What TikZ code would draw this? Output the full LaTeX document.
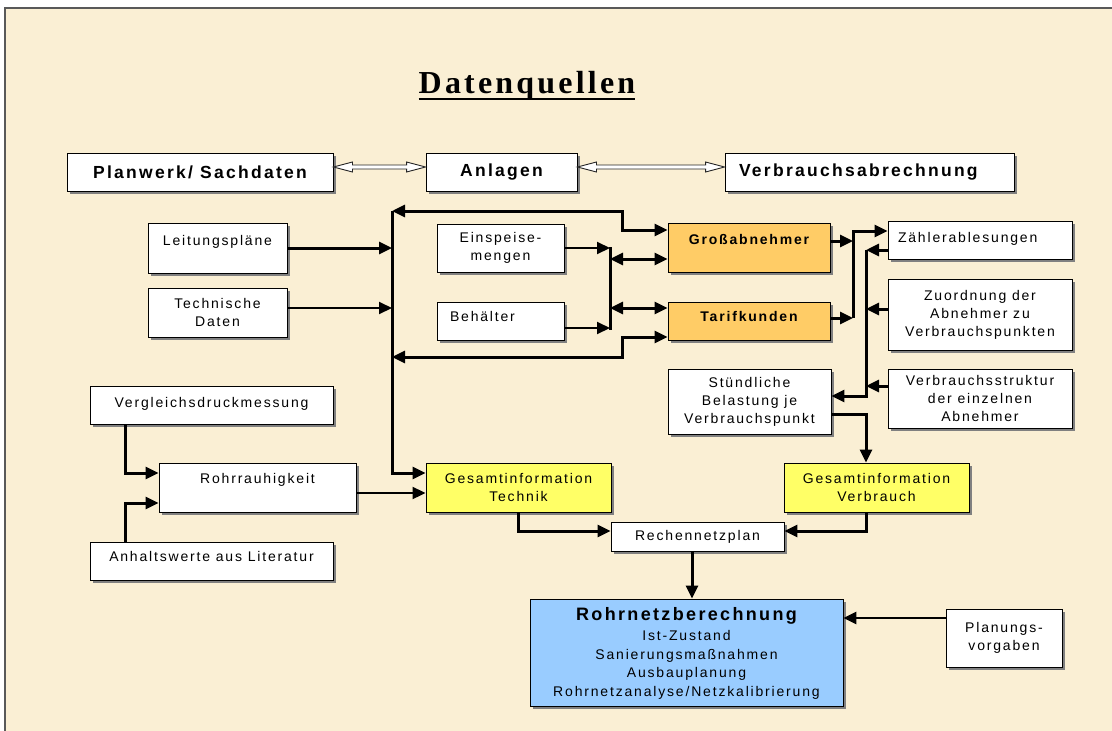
\documentclass[tikz,border=0pt]{standalone}
\usepackage{fontspec}
\setmainfont{Liberation Sans}
\newfontfamily\boxfont[LetterSpace=13]{Liberation Sans}
\newfontfamily\titlefont[LetterSpace=10]{Liberation Serif}
\usetikzlibrary{arrows.meta,shadows,calc}

\definecolor{paper}{RGB}{250,239,212}
\definecolor{kunde}{RGB}{255,204,102}
\definecolor{gesamt}{RGB}{255,255,102}
\definecolor{rechnung}{RGB}{153,204,255}

\tikzset{
	box/.style={draw=black, line width=0.9pt, fill=white, inner sep=0pt, align=center,
		font=\boxfont\fontsize{14}{18}\selectfont,
		drop shadow={shadow xshift=3pt, shadow yshift=-3pt, fill=black!50, opacity=1}},
	headbox/.style={box, font=\boxfont\bfseries\fontsize{17.5}{20}\selectfont},
	kundebox/.style={box, fill=kunde, font=\boxfont\bfseries\fontsize{14}{18}\selectfont},
	gesamtbox/.style={box, fill=gesamt},
	rohrbox/.style={box, fill=rechnung, font=\boxfont\fontsize{14}{18.5}\selectfont},
	dim/.style 2 args={minimum width=#1pt, minimum height=#2pt},
	lift/.style={text height=10pt, text depth=#1pt},
	conn/.style={line width=3pt, -{Triangle[length=13pt,width=12pt]}},
	connthin/.style={conn, line width=2pt},
	both/.style={line width=3pt, {Triangle[length=13pt,width=12pt]}-{Triangle[length=13pt,width=12pt]}},
	bar/.style={line width=3pt, line cap=rect},
	hollow/.style={draw=black!85, line width=0.9pt, fill=white, line join=miter},
}

% hohler Doppelpfeil zwischen zwei Punkten gleicher Hoehe
\newcommand\hohlpfeil[2]{%
	\draw[hollow] (#1) -- ($(#1)+(19,-5)$) -- ($(#1)+(19,-2)$) -- ($(#2)+(-19,-2)$)
		-- ($(#2)+(-19,-5)$) -- (#2) -- ($(#2)+(-19,5)$) -- ($(#2)+(-19,2)$)
		-- ($(#1)+(19,2)$) -- ($(#1)+(19,5)$) -- cycle;}

\begin{document}
\begin{tikzpicture}[x=1pt, y=-1pt]
		\useasboundingbox (0,0) rectangle (1112,731);
		\fill[white] (0,0) rectangle (1112,731);
		\draw[fill=paper, draw=black!65, line width=1.5pt] (5,8) rectangle (1120,740);

		\node[font=\titlefont\bfseries\fontsize{32}{36}\selectfont, anchor=base, inner sep=0pt]
			(titel) at (527,93) {Datenquellen};
		\draw[line width=2.5pt] ([yshift=-6pt]titel.base west) -- ([yshift=-6pt]titel.base east);

		\path
			  (200,172)     node[headbox, dim={266}{38}]                 (plan)    {Planwerk/ Sachdaten}
			  (501.5,172)   node[headbox, dim={151}{38}]                 (anlagen) {Anlagen}
			  (869.5,172)   node[headbox, dim={289}{38}, text width=261pt, align=left] (verbr) {Verbrauchsabrechnung}
			  (217.5,248)   node[box, dim={139}{50}, lift=16]            (leit)    {Leitungspläne}
			  (217.5,312.5) node[box, dim={139}{49}]                     (tech)    {Technische\\Daten}
			  (500.5,248)   node[box, dim={127}{48}]                     (einsp)   {Einspeise-\\mengen}
			  (500.5,321)   node[box, dim={127}{38}, lift=10, text width=101pt, align=left] (behael) {Behälter}
			  (749,247.5)   node[kundebox, dim={162}{49}, lift=17]       (gross)   {Großabnehmer}
			  (749,321)     node[kundebox, dim={162}{38}, lift=10]       (tarif)   {Tarifkunden}
			  (980,240)     node[box, dim={184}{38}, lift=6, text width=164pt, align=left] (zaehl) {Zählerablesungen}
			  (980,314.5)   node[box, dim={184}{71}]                     (zuord)   {Zuordnung der\\Abnehmer zu\\Verbrauchspunkten}
			  (980,398.5)   node[box, dim={184}{59}]                     (struk)   {Verbrauchsstruktur\\der einzelnen\\Abnehmer}
			  (749.5,401.5) node[box, dim={163}{65}]                     (stuend)  {Stündliche\\Belastung je\\Verbrauchspunkt}
			  (211.5,405)   node[box, dim={243}{38}, lift=6]             (vergl)   {Vergleichsdruckmessung}
			  (257.5,487.5) node[box, dim={197}{49}, lift=19]            (rauh)    {Rohrrauhigkeit}
			  (211.5,561)   node[box, dim={243}{38}, lift=10]            (anhalt)  {Anhaltswerte aus Literatur}
			  (518.5,487.5) node[gesamtbox, dim={185}{49}]               (gest)    {Gesamtinformation\\Technik}
			  (876.5,487.5) node[gesamtbox, dim={185}{49}]               (gesv)    {Gesamtinformation\\Verbrauch}
			  (697.5,536.5) node[box, dim={173}{29}]                     (rnetz)   {Rechennetzplan}
			  (686.5,652.5) node[rohrbox, dim={313}{107}, text depth=1pt] (rohr)  {{\bfseries\fontsize{18}{20}\selectfont Rohrnetzberechnung}\\[1.5pt]Ist-Zustand\\Sanierungsmaßnahmen\\Ausbauplanung\\Rohrnetzanalyse/Netzkalibrierung}
			  (1004,638)    node[box, dim={116}{58}]                     (planv)   {Planungs-\\vorgaben}
		;

		% Sammelleitungen
		\coordinate (trunkT) at (392,211);
		\coordinate (trunkM) at (392,357);
		\coordinate (trunkB) at (392,473);
		\coordinate (bendT)  at (622,211);
		\coordinate (bendB)  at (622,357);
		\coordinate (sumA)   at (610,248);
		\coordinate (sumB)   at (610,328);
		\coordinate (knotR)  at (853,318);
		\coordinate (knotS)  at (866,396);

		% Anschlusspunkte
		\coordinate (hA)      at ([yshift=5pt]plan.east);
		\coordinate (hAe)     at (hA -| anlagen.west);
		\coordinate (hB)      at ([yshift=5pt]anlagen.east);
		\coordinate (hBe)     at (hB -| verbr.west);
		\coordinate (techO)   at ([yshift=4.5pt]tech.east);
		\coordinate (behO)    at ([yshift=-7pt]behael.east);
		\coordinate (grossI)  at ([yshift=17.5pt]gross.west);
		\coordinate (grossL)  at ([yshift=-11.5pt]gross.west);
		\coordinate (grossO)  at ([yshift=6.5pt]gross.east);
		\coordinate (tarifI)  at ([yshift=-16pt]tarif.west);
		\coordinate (tarifL)  at ([yshift=13pt]tarif.west);
		\coordinate (tarifO)  at ([yshift=3pt]tarif.east);
		\coordinate (zaehlI)  at ([yshift=9pt]zaehl.west);
		\coordinate (zaehlO)  at ([yshift=-10pt]zaehl.west);
		\coordinate (zuordO)  at ([yshift=5.5pt]zuord.west);
		\coordinate (strukO)  at ([yshift=12.5pt]struk.west);
		\coordinate (stuendO) at ([yshift=-12.5pt]stuend.east);
		\coordinate (rnetzL)  at ([yshift=5.5pt]rnetz.west);
		\coordinate (rnetzR)  at ([yshift=5.5pt]rnetz.east);
		\coordinate (rnetzO)  at ([xshift=-5.5pt]rnetz.south);
		\coordinate (planvO)  at ([yshift=20pt]planv.west);
		\coordinate (verglO)  at ([xshift=-86.5pt]vergl.south);
		\coordinate (anhaltO) at ([xshift=-86.5pt]anhalt.north);
		\coordinate (rauhA)   at ([yshift=14.5pt]rauh.west);
		\coordinate (rauhB)   at ([yshift=-15.5pt]rauh.west);
		\coordinate (rauhO)   at ([yshift=-5.5pt]rauh.east);

		\hohlpfeil{hA}{hAe}
		\hohlpfeil{hB}{hBe}

		\draw[conn]     (leit.east) -- (leit.east -| trunkT);
		\draw[connthin] (techO) -- (techO -| trunkT);
		\draw[conn]     (trunkT) -- (trunkB) -- (trunkB -| gest.west);
		\draw[both]     (trunkT) -- (bendT) |- (grossI);
		\draw[both]     (trunkM) -- (bendB) |- (tarifI);

		\draw[connthin] (einsp.east) -- (sumA);
		\draw[connthin] (behO) -- (behO -| sumB);
		\draw[bar]      (sumA) -- (sumB);
		\draw[both]     (grossL -| sumA) -- (grossL);
		\draw[both]     (tarifL -| sumA) -- (tarifL);

		\draw[conn]     (grossO) -- (grossO -| knotR);
		\draw[conn]     (tarifO) -- (knotR);
		\draw[conn]     (knotR) |- (zaehlI);

		\draw[conn]     (zaehlO) -- (zaehlO -| knotS);
		\draw[conn]     (zuordO) -- (zuordO -| knotS);
		\draw[conn]     (strukO) -- (strukO -| knotS);
		\draw[conn]     (zaehlO -| knotS) -- (knotS) -- (knotS -| stuend.east);
		\draw[conn]     (stuendO) -| (knotS |- gesv.north);

		\draw[conn]     (gest.south) |- (rnetzL);
		\draw[conn]     (knotS |- gesv.south) |- (rnetzR);
		\draw[conn]     (rnetzO) -- (rnetzO |- rohr.north);
		\draw[conn, line width=2.5pt] (planvO) -- (planvO -| rohr.east);

		\draw[conn]     (verglO) |- (rauhA);
		\draw[conn]     (anhaltO) |- (rauhB);
		\draw[connthin] (rauhO) -- (rauhO -| gest.west);
	\end{tikzpicture}
\end{document}
